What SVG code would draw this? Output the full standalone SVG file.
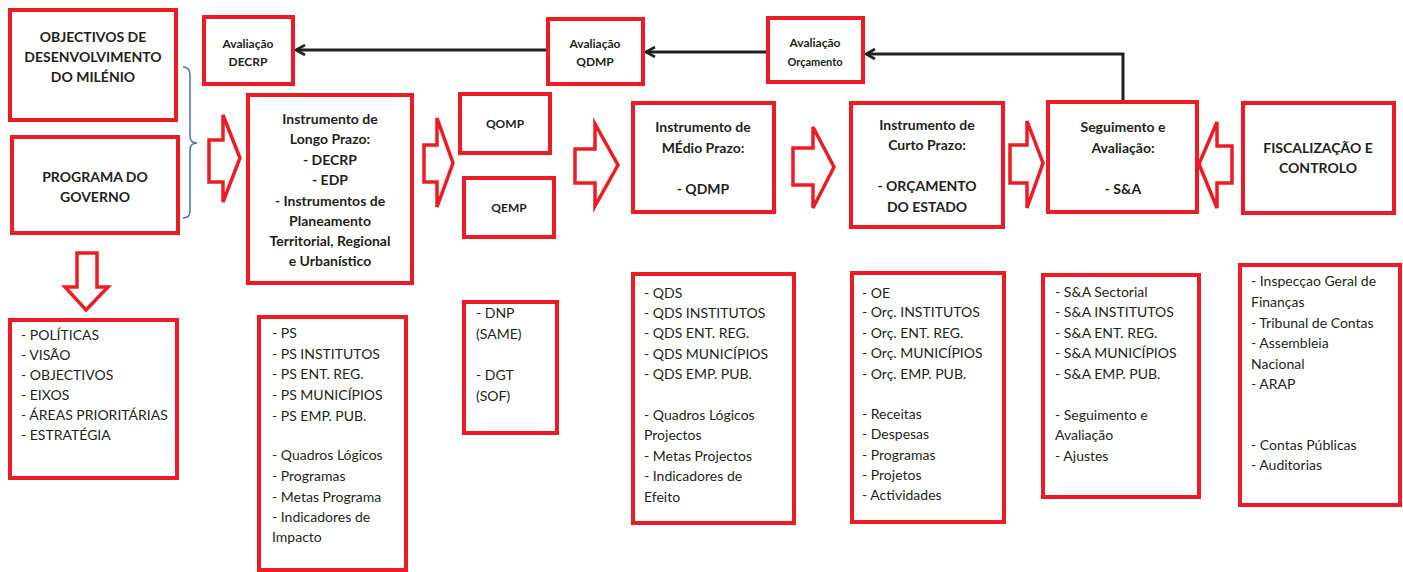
<svg xmlns="http://www.w3.org/2000/svg" width="1403" height="572" viewBox="0 0 1403 572">
<style>
.box{fill:#fff;stroke:#ED1C24;stroke-width:4}
.barrow{fill:#fff;stroke:#ED1C24;stroke-width:3.5;stroke-linejoin:miter}
.conn{fill:none;stroke:#231F20;stroke-width:3}
.t{font-family:Lato,"Liberation Sans",sans-serif;fill:#231F20}
.h{font-size:14px;font-weight:bold;text-anchor:middle}
.m{font-size:14px;font-weight:bold;text-anchor:middle}
.s{font-size:12px;font-weight:bold;text-anchor:middle}
.l{font-size:14px}
</style>
<defs>
<marker id="ah" viewBox="0 0 12 12" refX="10.5" refY="6" markerWidth="12" markerHeight="12" markerUnits="userSpaceOnUse" orient="auto">
<path d="M1.5,1 L10.5,6 L1.5,11" fill="none" stroke="#231F20" stroke-width="2.6"/>
</marker>
</defs>
<rect width="1403" height="572" fill="#fff"/>

<g id="connectors">
<path class="conn" d="M548,50 L296,50" marker-end="url(#ah)"/>
<path class="conn" d="M768,52 L646,52" marker-end="url(#ah)"/>
<path class="conn" d="M1123,101 L1123,54 L866,54" marker-end="url(#ah)"/>
<path d="M183,67 Q190,67 190,75 L190,136 Q190,143 197,143 Q190,143 190,150 L190,211 Q190,218 183,218" fill="none" stroke="#4472C4" stroke-width="1.5"/>
<polygon class="barrow" points="209,140 223,140 223,115 240,158 223,202 223,182 209,182"/>
<polygon class="barrow" points="424,145 437,145 437,118 453,163 437,207 437,182 424,182"/>
<polygon class="barrow" points="575,149 595,149 595,124 618,165 595,206 595,183 575,183"/>
<polygon class="barrow" points="793,148 813,148 813,127 834,167 813,208 813,185 793,185"/>
<polygon class="barrow" points="1010,145 1027,145 1027,121 1043,163 1027,208 1027,183 1010,183"/>
<polygon class="barrow" points="1232,146 1217,146 1217,122 1199,164 1217,208 1217,183 1232,183"/>
<polygon class="barrow" points="77,253 97,253 97,287 108,287 86,310 65,287 77,287"/>
</g>

<g id="odm">
<rect class="box" x="10" y="10" width="166" height="110"/>
<text class="t h" x="93" y="42">OBJECTIVOS DE</text>
<text class="t h" x="93" y="62">DESENVOLVIMENTO</text>
<text class="t h" x="93" y="82">DO MILÉNIO</text>
</g>
<g id="programa">
<rect class="box" x="12" y="137" width="166" height="96"/>
<text class="t h" x="95" y="182">PROGRAMA DO</text>
<text class="t h" x="95" y="202">GOVERNO</text>
</g>
<g id="aval-decrp">
<rect class="box" x="204" y="17" width="89" height="67"/>
<text class="t s" x="248" y="48">Avaliação</text>
<text class="t s" x="248" y="66">DECRP</text>
</g>
<g id="aval-qdmp">
<rect class="box" x="548" y="19" width="95" height="65"/>
<text class="t s" x="595" y="48">Avaliação</text>
<text class="t s" x="595" y="66">QDMP</text>
</g>
<g id="aval-orc">
<rect class="box" x="768" y="18" width="95" height="64"/>
<text class="t s" x="815" y="47">Avaliação</text>
<text class="t s" x="815" y="66" style="font-size:11px">Orçamento</text>
</g>
<g id="longo">
<rect class="box" x="248" y="95" width="164" height="188"/>
<text class="t m" x="330" y="124">Instrumento de</text>
<text class="t m" x="330" y="144">Longo Prazo:</text>
<text class="t m" x="330" y="165">- DECRP</text>
<text class="t m" x="330" y="185">- EDP</text>
<text class="t m" x="330" y="206">- Instrumentos de</text>
<text class="t m" x="330" y="226">Planeamento</text>
<text class="t m" x="330" y="246">Territorial, Regional</text>
<text class="t m" x="330" y="266">e Urbanístico</text>
</g>
<g id="qomp">
<rect class="box" x="460" y="94" width="90" height="59"/>
<text class="t s" x="505" y="128">QOMP</text>
</g>
<g id="qemp">
<rect class="box" x="464" y="178" width="90" height="59"/>
<text class="t s" x="509" y="212">QEMP</text>
</g>
<g id="medio">
<rect class="box" x="633" y="103" width="141" height="109"/>
<text class="t m" x="703" y="132">Instrumento de</text>
<text class="t m" x="703" y="153">MÉdio Prazo:</text>
<text class="t m" x="703" y="194">- QDMP</text>
</g>
<g id="curto">
<rect class="box" x="851" y="103" width="152" height="124"/>
<text class="t m" x="927" y="130">Instrumento de</text>
<text class="t m" x="927" y="150">Curto Prazo:</text>
<text class="t m" x="927" y="191">- ORÇAMENTO</text>
<text class="t m" x="927" y="212">DO ESTADO</text>
</g>
<g id="sa">
<rect class="box" x="1048" y="102" width="149" height="110"/>
<text class="t m" x="1123" y="132">Seguimento e</text>
<text class="t m" x="1123" y="153">Avaliação:</text>
<text class="t m" x="1123" y="194">- S&amp;A</text>
</g>
<g id="fiscal">
<rect class="box" x="1243" y="103" width="151" height="110"/>
<text class="t m" x="1318" y="153">FISCALIZAÇÃO E</text>
<text class="t m" x="1318" y="173">CONTROLO</text>
</g>

<g id="list-politicas">
<rect class="box" x="10" y="320" width="167" height="158"/>
<text class="t l" x="21" y="340">- POLÍTICAS</text>
<text class="t l" x="21" y="360">- VISÃO</text>
<text class="t l" x="21" y="380">- OBJECTIVOS</text>
<text class="t l" x="21" y="400">- EIXOS</text>
<text class="t l" x="21" y="420">- ÁREAS PRIORITÁRIAS</text>
<text class="t l" x="21" y="440">- ESTRATÉGIA</text>
</g>
<g id="list-ps">
<rect class="box" x="259" y="317" width="147" height="253"/>
<text class="t l" x="272" y="338">- PS</text>
<text class="t l" x="272" y="359">- PS INSTITUTOS</text>
<text class="t l" x="272" y="379">- PS ENT. REG.</text>
<text class="t l" x="272" y="400">- PS MUNICÍPIOS</text>
<text class="t l" x="272" y="421">- PS EMP. PUB.</text>
<text class="t l" x="272" y="460">- Quadros Lógicos</text>
<text class="t l" x="272" y="481">- Programas</text>
<text class="t l" x="272" y="502">- Metas Programa</text>
<text class="t l" x="272" y="522">- Indicadores de</text>
<text class="t l" x="272" y="542">Impacto</text>
</g>
<g id="list-dnp">
<rect class="box" x="464" y="302" width="93" height="131"/>
<text class="t l" x="476" y="318">- DNP</text>
<text class="t l" x="476" y="339">(SAME)</text>
<text class="t l" x="476" y="380">- DGT</text>
<text class="t l" x="476" y="401">(SOF)</text>
</g>
<g id="list-qds">
<rect class="box" x="633" y="274" width="161" height="249"/>
<text class="t l" x="644" y="298">- QDS</text>
<text class="t l" x="644" y="318">- QDS INSTITUTOS</text>
<text class="t l" x="644" y="338">- QDS ENT. REG.</text>
<text class="t l" x="644" y="359">- QDS MUNICÍPIOS</text>
<text class="t l" x="644" y="379">- QDS EMP. PUB.</text>
<text class="t l" x="644" y="420">- Quadros Lógicos</text>
<text class="t l" x="644" y="440">Projectos</text>
<text class="t l" x="644" y="461">- Metas Projectos</text>
<text class="t l" x="644" y="481">- Indicadores de</text>
<text class="t l" x="644" y="502">Efeito</text>
</g>
<g id="list-oe">
<rect class="box" x="852" y="273" width="152" height="249"/>
<text class="t l" x="862" y="298">- OE</text>
<text class="t l" x="862" y="317">- Orç. INSTITUTOS</text>
<text class="t l" x="862" y="338">- Orç. ENT. REG.</text>
<text class="t l" x="862" y="358">- Orç. MUNICÍPIOS</text>
<text class="t l" x="862" y="379">- Orç. EMP. PUB.</text>
<text class="t l" x="862" y="419">- Receitas</text>
<text class="t l" x="862" y="439">- Despesas</text>
<text class="t l" x="862" y="460">- Programas</text>
<text class="t l" x="862" y="480">- Projetos</text>
<text class="t l" x="862" y="500">- Actividades</text>
</g>
<g id="list-sa">
<rect class="box" x="1043" y="275" width="156" height="222"/>
<text class="t l" x="1055" y="297">- S&amp;A Sectorial</text>
<text class="t l" x="1055" y="317">- S&amp;A INSTITUTOS</text>
<text class="t l" x="1055" y="338">- S&amp;A ENT. REG.</text>
<text class="t l" x="1055" y="358">- S&amp;A MUNICÍPIOS</text>
<text class="t l" x="1055" y="379">- S&amp;A EMP. PUB.</text>
<text class="t l" x="1055" y="420">- Seguimento e</text>
<text class="t l" x="1055" y="440">Avaliação</text>
<text class="t l" x="1055" y="461">- Ajustes</text>
</g>
<g id="list-fiscal">
<rect class="box" x="1240" y="265" width="160" height="240"/>
<text class="t l" x="1251" y="286">- Inspecçao Geral de</text>
<text class="t l" x="1251" y="307">Finanças</text>
<text class="t l" x="1251" y="328">- Tribunal de Contas</text>
<text class="t l" x="1251" y="348">- Assembleia</text>
<text class="t l" x="1251" y="369">Nacional</text>
<text class="t l" x="1251" y="389">- ARAP</text>
<text class="t l" x="1251" y="450">- Contas Públicas</text>
<text class="t l" x="1251" y="470">- Auditorias</text>
</g>
</svg>
